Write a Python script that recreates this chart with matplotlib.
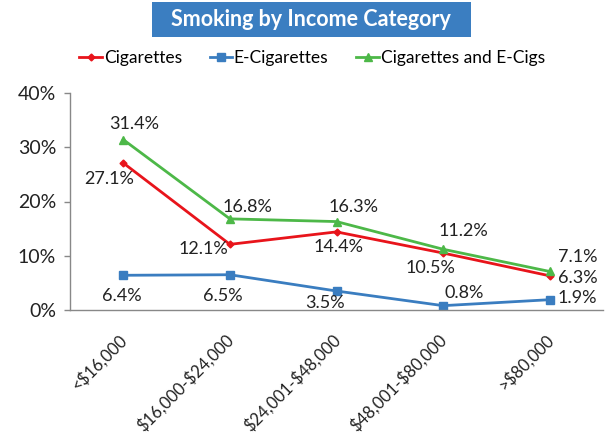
import matplotlib
matplotlib.use("Agg")
import matplotlib.pyplot as plt
import matplotlib.transforms as mtransforms
from matplotlib.patches import Rectangle
from matplotlib.ticker import FuncFormatter

plt.rcParams['text.parse_math'] = False

categories = ["<$16,000", "$16,000-$24,000", "$24,001-$48,000", "$48,001-$80,000", ">$80,000"]
cigarettes = [27.1, 12.1, 14.4, 10.5, 6.3]
e_cigarettes = [6.4, 6.5, 3.5, 0.8, 1.9]
both = [31.4, 16.8, 16.3, 11.2, 7.1]

# label offsets in pixels (dx, dy)
off_cig = [(-14, -16), (-27, -5), (2, -15), (-13, -15), (28, -2)]
off_ecig = [(-1, -21), (-7, -21), (-12, -12), (21, 13), (28, 2)]
off_both = [(11, 16), (18, 12), (17, 15), (20, 18), (28, 14)]

plt.rcParams['font.family'] = ['Lato', 'DejaVu Sans']

W, H = 607, 438
fig = plt.figure(figsize=(W / 100, H / 100), dpi=100)
ax = fig.add_axes([70 / W, (H - 310) / H, (603 - 70) / W, (310 - 93) / H])

red = "#E8141B"
blue = "#3A7DC0"
green = "#4DB848"
x = list(range(len(categories)))

ax.plot(x, cigarettes, color=red, lw=2, marker="D", ms=3.5, label="Cigarettes")
ax.plot(x, e_cigarettes, color=blue, lw=2, marker="s", ms=5.5, label="E-Cigarettes")
ax.plot(x, both, color=green, lw=2, marker="^", ms=5.5, label="Cigarettes and E-Cigs")

for series, offs in ((cigarettes, off_cig), (e_cigarettes, off_ecig), (both, off_both)):
    for xi, v, (dx, dy) in zip(x, series, offs):
        ax.annotate(f"{v:.1f}%", (xi, v), xytext=(dx, dy), textcoords="offset pixels",
                    ha="center", va="center", fontsize=13, color="#222222")

ax.set_xlim(-0.5, 4.5)
ax.set_ylim(0, 40)
ax.set_yticks([0, 10, 20, 30, 40])
ax.yaxis.set_major_formatter(FuncFormatter(lambda v, p: f"{v:.0f}%"))
ax.set_xticks(x)
ax.set_xticklabels(categories, rotation=45, ha="right", va="top", rotation_mode="anchor")
ax.tick_params(axis="x", length=0, pad=15, labelsize=12, colors="#222222")
shift = mtransforms.ScaledTranslation(-5 / 100, 0, fig.dpi_scale_trans)
for lbl in ax.get_xticklabels():
    lbl.set_transform(lbl.get_transform() + shift)
ax.tick_params(axis="y", length=4, width=1, color="#888888", labelsize=14, colors="#222222", pad=6)
for s in ("top", "right"):
    ax.spines[s].set_visible(False)
for s in ("left", "bottom"):
    ax.spines[s].set_color("#888888")
    ax.spines[s].set_linewidth(1)

fig.legend(loc="center", bbox_to_anchor=(312 / W, 1 - 58 / H), ncol=3, frameon=False,
           fontsize=12.5, handlelength=1.3, handletextpad=0.1, columnspacing=1.6)

fig.patches.append(Rectangle((152 / W, 1 - 37 / H), (471 - 152) / W, 35 / H,
                             transform=fig.transFigure, facecolor="#3B7EC1", edgecolor="none"))
fig.text(311 / W, 1 - 19.5 / H, "Smoking by Income Category", ha="center", va="center",
         fontsize=15.5, fontweight="bold", color="white")

fig.savefig("out.png", dpi=100)
